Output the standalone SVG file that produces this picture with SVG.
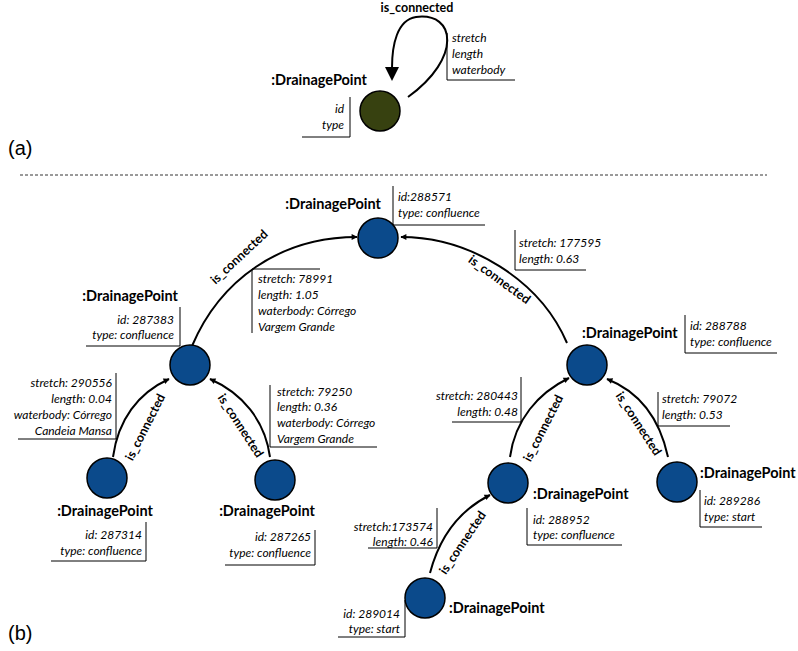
<svg xmlns="http://www.w3.org/2000/svg" width="798" height="651" viewBox="0 0 798 651">
<style>
  .bg{fill:#ffffff}
  .pt{fill:#0b4a8b;stroke:#000;stroke-width:1.5}
  .pta{fill:#374110;stroke:#000;stroke-width:1.5}
  .name{font-family:Lato,"Liberation Sans",sans-serif;font-weight:bold;font-size:14.5px;fill:#000}
  .attr{font-family:Lato,"Liberation Sans",sans-serif;font-style:italic;font-size:12px;fill:#000}
  .box{fill:none;stroke:#000;stroke-width:1}
  .edge{fill:none;stroke:#000;stroke-width:2;marker-end:url(#arr)}
  .el{font-family:Lato,"Liberation Sans",sans-serif;font-weight:bold;font-size:12.5px;fill:#000;text-anchor:middle}
  .cap{font-family:"Liberation Sans",Arial,sans-serif;font-size:20px;fill:#000}
  .end{text-anchor:end}
</style>
<defs>
  <marker id="arr" viewBox="0 0 10 10" refX="9" refY="5" markerWidth="6.5" markerHeight="6" markerUnits="userSpaceOnUse" orient="auto" overflow="visible">
    <path d="M0,0 L10,5 L0,10 z" fill="#000"/>
  </marker>
</defs>
<rect class="bg" x="0" y="0" width="798" height="651"/>

<!-- captions and separator -->
<text class="cap" x="8" y="155">(a)</text>
<text class="cap" x="8" y="640">(b)</text>
<line x1="20" y1="175" x2="767" y2="175" stroke="#000" stroke-width="0.8" stroke-dasharray="3,2"/>

<!-- connectors -->
<g id="connectors">
  <g id="e-a">
    <path d="M408,97 C462,58 456,12 416,17 C397,20 392,45 392,68" fill="none" stroke="#000" stroke-width="2"/>
    <path d="M385,67 L392,81 L399,67 z" fill="#000"/>
    <text class="el" x="417" y="12">is_connected</text>
    <polyline class="box" points="447,33 447,80 515,80"/>
    <text class="attr" x="452" y="42">stretch</text>
    <text class="attr" x="452" y="58">length</text>
    <text class="attr" x="452" y="74">waterbody</text>
  </g>
  <g id="e21">
    <path class="edge" d="M192,346 C220,280 280,237 357,237"/>
    <text class="el" transform="translate(242,260) rotate(-43)">is_connected</text>
    <polyline class="box" points="320,269 252,269 252,333"/>
    <text class="attr" x="258" y="283">stretch: 78991</text>
    <text class="attr" x="258" y="299">length: 1.05</text>
    <text class="attr" x="258" y="315">waterbody: Córrego</text>
    <text class="attr" x="258" y="331">Vargem Grande</text>
  </g>
  <g id="e51">
    <path class="edge" d="M567,343 C540,280 470,237 401,237"/>
    <text class="el" transform="translate(497,283) rotate(36)">is_connected</text>
    <polyline class="box" points="515,230 515,270 586,270"/>
    <text class="attr" x="519" y="247">stretch: 177595</text>
    <text class="attr" x="519" y="263">length: 0.63</text>
  </g>
  <g id="e32">
    <path class="edge" d="M113,457 C118,420 138,393 169,379"/>
    <text class="el" transform="translate(149,429) rotate(-63)">is_connected</text>
    <polyline class="box" points="116,373 116,439 18,439"/>
    <text class="attr end" x="112" y="387">stretch: 290556</text>
    <text class="attr end" x="112" y="403">length: 0.04</text>
    <text class="attr end" x="112" y="419">waterbody: Córrego</text>
    <text class="attr end" x="112" y="435">Candeia Mansa</text>
  </g>
  <g id="e42">
    <path class="edge" d="M270,457 C265,420 242,393 210,379"/>
    <text class="el" transform="translate(237,428) rotate(57)">is_connected</text>
    <polyline class="box" points="270,385 270,447 377,447"/>
    <text class="attr" x="277" y="396">stretch: 79250</text>
    <text class="attr" x="277" y="411">length: 0.36</text>
    <text class="attr" x="277" y="427">waterbody: Córrego</text>
    <text class="attr" x="277" y="443">Vargem Grande</text>
  </g>
  <g id="e65">
    <path class="edge" d="M510,457 C515,420 538,393 569,378"/>
    <text class="el" transform="translate(547,430) rotate(-63)">is_connected</text>
    <polyline class="box" points="521,377 521,422 452,422"/>
    <text class="attr end" x="518" y="400">stretch: 280443</text>
    <text class="attr end" x="518" y="416">length: 0.48</text>
  </g>
  <g id="e75">
    <path class="edge" d="M668,457 C660,420 640,392 607,379"/>
    <text class="el" transform="translate(635,426) rotate(57)">is_connected</text>
    <polyline class="box" points="658,392 658,426 730,426"/>
    <text class="attr" x="662" y="403">stretch: 79072</text>
    <text class="attr" x="662" y="419">length: 0.53</text>
  </g>
  <g id="e86">
    <path class="edge" d="M430,573 C440,535 460,510 490,495"/>
    <text class="el" transform="translate(466,545) rotate(-56)">is_connected</text>
    <polyline class="box" points="437,508 437,548 368,548"/>
    <text class="attr end" x="433" y="531">stretch:173574</text>
    <text class="attr end" x="433" y="546">length: 0.46</text>
  </g>
</g>

<!-- (a) node -->
<g id="node-a">
  <circle class="pta" cx="380" cy="111" r="20"/>
  <text class="name end" x="367" y="85">:DrainagePoint</text>
  <polyline class="box" points="350,97 350,137 302,137"/>
  <text class="attr end" x="344" y="113">id</text>
  <text class="attr end" x="344" y="129">type</text>
</g>

<!-- (b) nodes -->
<g id="n1">
  <circle class="pt" cx="378" cy="238" r="20"/>
  <text class="name end" x="381" y="209">:DrainagePoint</text>
  <polyline class="box" points="393,186 393,225 485,225"/>
  <text class="attr" x="398" y="201">id:288571</text>
  <text class="attr" x="398" y="217">type: confluence</text>
</g>
<g id="n2">
  <circle class="pt" cx="190" cy="365" r="20"/>
  <text class="name end" x="178" y="301">:DrainagePoint</text>
  <polyline class="box" points="180,307 180,346 86,346"/>
  <text class="attr end" x="174" y="324">id: 287383</text>
  <text class="attr end" x="174" y="339">type: confluence</text>
</g>
<g id="n3">
  <circle class="pt" cx="107" cy="478" r="20"/>
  <text class="name" x="105" y="516" text-anchor="middle">:DrainagePoint</text>
  <polyline class="box" points="146,522 146,561 51,561"/>
  <text class="attr end" x="142" y="539">id: 287314</text>
  <text class="attr end" x="142" y="555">type: confluence</text>
</g>
<g id="n4">
  <circle class="pt" cx="275" cy="480" r="20"/>
  <text class="name" x="267" y="516" text-anchor="middle">:DrainagePoint</text>
  <polyline class="box" points="315,530 315,565 225,565"/>
  <text class="attr end" x="311" y="541">id: 287265</text>
  <text class="attr end" x="311" y="557">type: confluence</text>
</g>
<g id="n5">
  <circle class="pt" cx="587" cy="365" r="20"/>
  <text class="name" x="582" y="338">:DrainagePoint</text>
  <polyline class="box" points="685,315 685,353 777,353"/>
  <text class="attr" x="690" y="330">id: 288788</text>
  <text class="attr" x="690" y="346">type: confluence</text>
</g>
<g id="n6">
  <circle class="pt" cx="508" cy="483" r="20"/>
  <text class="name" x="533" y="499">:DrainagePoint</text>
  <polyline class="box" points="527,508 527,545 622,545"/>
  <text class="attr" x="533" y="524">id: 288952</text>
  <text class="attr" x="533" y="539">type: confluence</text>
</g>
<g id="n7">
  <circle class="pt" cx="677" cy="482" r="20"/>
  <text class="name" x="700" y="478">:DrainagePoint</text>
  <polyline class="box" points="700,490 700,527 762,527"/>
  <text class="attr" x="704" y="505">id: 289286</text>
  <text class="attr" x="704" y="521">type: start</text>
</g>
<g id="n8">
  <circle class="pt" cx="425" cy="598" r="20"/>
  <text class="name" x="449" y="613">:DrainagePoint</text>
  <polyline class="box" points="405,600 405,637 338,637"/>
  <text class="attr end" x="400" y="618">id: 289014</text>
  <text class="attr end" x="400" y="633">type: start</text>
</g>
</svg>
